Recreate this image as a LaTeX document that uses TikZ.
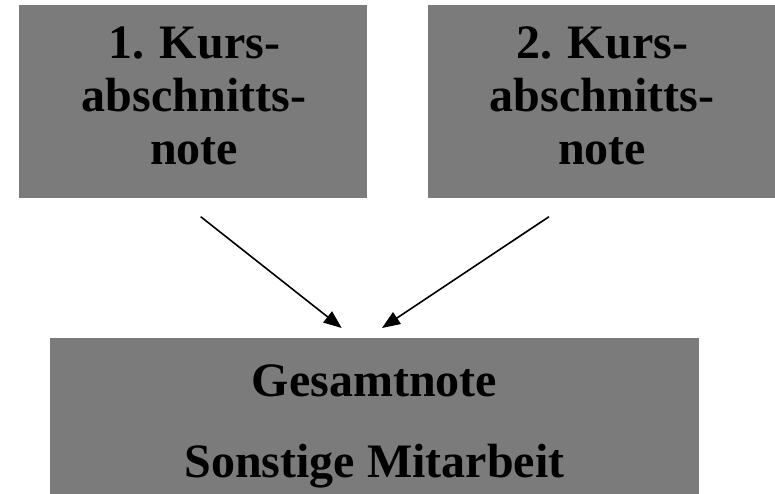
\documentclass[tikz,border=0pt]{standalone}
\usepackage{fontspec}
\setmainfont{Liberation Serif}
\usetikzlibrary{arrows.meta}
\definecolor{boxgray}{RGB}{123,123,123}
\tikzset{
  greybox/.style={fill=boxgray, draw=none, inner sep=0pt, anchor=north west},
  boxtext/.style={font=\fontsize{48}{53}\selectfont\bfseries, align=center, inner sep=0pt, anchor=base},
  bottomtext/.style={font=\fontsize{48}{81}\selectfont\bfseries, align=center, inner sep=0pt, anchor=base},
  conn/.style={line width=1.6pt, -{Triangle[length=18pt,width=14pt]}}
}
\begin{document}
\begin{tikzpicture}[x=1pt,y=-1pt]
\useasboundingbox (0,0) rectangle (775,493);
\node[greybox, minimum width=348pt, minimum height=193pt] (b1) at (19,5) {};
\node[greybox, minimum width=347pt, minimum height=193pt] (b2) at (428,5) {};
\node[greybox, minimum width=649pt, minimum height=160pt] (b3) at (50,338) {};
\node[boxtext] (t1) at (194,164) {1. Kurs-\\abschnitts-\\note};
\node[boxtext] (t2) at (602,164) {2. Kurs-\\abschnitts-\\note};
\node[bottomtext] (t3) at (374.5,477) {Gesamtnote\\Sonstige Mitarbeit};
\coordinate (s1) at (200.7,216.7);
\coordinate (e1) at (341.7,328);
\coordinate (s2) at (549,216.7);
\coordinate (e2) at (382,328);
\draw[conn] (s1) -- (e1);
\draw[conn] (s2) -- (e2);
\end{tikzpicture}
\end{document}
